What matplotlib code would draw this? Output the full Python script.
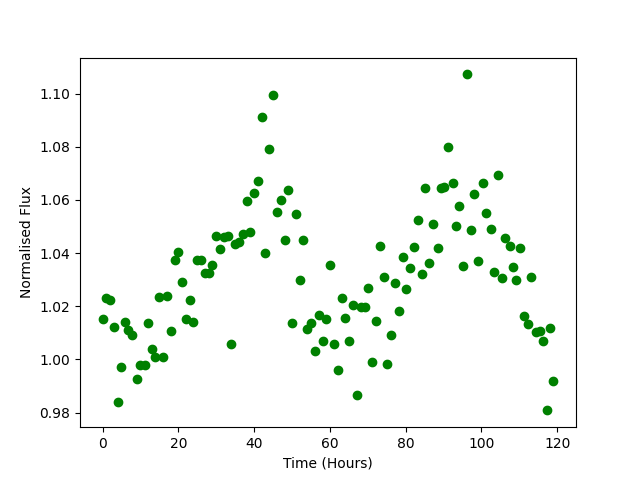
import matplotlib
matplotlib.use('Agg')
from matplotlib import pyplot as plt

# time of each sample (hours)
hours = [0.0, 0.8, 1.9, 2.9, 4.0, 4.8, 5.9, 6.8, 7.9, 9.0,
         9.8, 11.1, 11.9, 13.0, 13.8, 14.8, 15.9, 17.0, 18.0, 19.0,
         19.8, 20.9, 21.9, 23.0, 23.8, 24.9, 25.9, 27.0, 28.1, 28.9,
         29.9, 31.0, 32.0, 33.0, 33.8, 34.9, 36.0, 37.0, 38.1, 38.9,
         40.0, 41.0, 42.1, 42.9, 43.9, 44.9, 46.0, 47.1, 48.1, 48.9,
         50.0, 51.1, 52.1, 52.9, 54.0, 55.1, 56.0, 57.1, 58.2, 59.0,
         60.0, 61.1, 62.2, 63.2, 64.0, 65.1, 66.2, 67.2, 68.2, 69.3,
         70.1, 71.1, 72.2, 73.3, 74.3, 75.1, 76.2, 77.3, 78.3, 79.4,
         80.2, 81.2, 82.2, 83.3, 84.4, 85.2, 86.2, 87.3, 88.4, 89.2,
         90.2, 91.3, 92.4, 93.2, 94.1, 95.2, 96.3, 97.3, 98.1, 99.2,
         100.3, 101.3, 102.4, 103.2, 104.3, 105.3, 106.3, 107.4, 108.2, 109.2,
         110.3, 111.1, 112.2, 113.2, 114.3, 115.4, 116.2, 117.2, 118.2, 119.0]

flux = [1.0153, 1.0230, 1.0222, 1.0120, 0.9840, 0.9970, 1.0140, 1.0110, 1.0090, 0.9925,
        0.9980, 0.9980, 1.0135, 1.0040, 1.0010, 1.0235, 1.0010, 1.0240, 1.0105, 1.0375,
        1.0405, 1.0290, 1.0150, 1.0225, 1.0140, 1.0375, 1.0375, 1.0325, 1.0325, 1.0355,
        1.0465, 1.0415, 1.0460, 1.0465, 1.0057, 1.0435, 1.0440, 1.0470, 1.0595, 1.0480,
        1.0625, 1.0670, 1.0910, 1.0400, 1.0790, 1.0994, 1.0555, 1.0600, 1.0450, 1.0638,
        1.0135, 1.0545, 1.0300, 1.0450, 1.0113, 1.0135, 1.0030, 1.0166, 1.0070, 1.0150,
        1.0355, 1.0057, 0.9960, 1.0230, 1.0155, 1.0068, 1.0205, 0.9866, 1.0197, 1.0197,
        1.0268, 0.9989, 1.0145, 1.0427, 1.0310, 0.9981, 1.0093, 1.0287, 1.0181, 1.0385,
        1.0264, 1.0343, 1.0423, 1.0525, 1.0321, 1.0645, 1.0362, 1.0510, 1.0419, 1.0645,
        1.0650, 1.0800, 1.0664, 1.0500, 1.0577, 1.0351, 1.1072, 1.0487, 1.0623, 1.0370,
        1.0664, 1.0551, 1.0490, 1.0330, 1.0694, 1.0306, 1.0457, 1.0426, 1.0347, 1.0298,
        1.0419, 1.0162, 1.0132, 1.0309, 1.0102, 1.0106, 1.0068, 0.9808, 1.0117, 0.9920]

plt.figure(figsize=(6.4, 4.8), dpi=100)
plt.plot(hours, flux, 'go')
plt.xlabel('Time (Hours)')
plt.ylabel('Normalised Flux')
plt.savefig('out.png')
